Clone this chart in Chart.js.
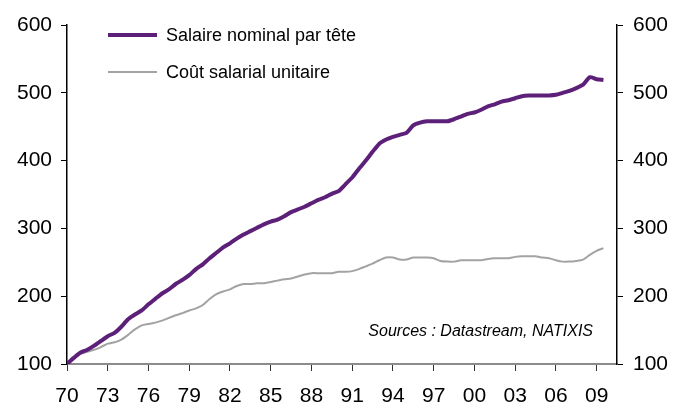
<!DOCTYPE html>
<html lang="fr">
<head>
<meta charset="utf-8">
<title>Salaire nominal et coût salarial unitaire</title>
<script src="https://cdn.jsdelivr.net/npm/chart.js@4/dist/chart.umd.min.js"></script>
<style>
    html, body { margin: 0; padding: 0; background: #fff; }
    canvas { display: block; }
</style>
</head>
<body>
<canvas id="graphique" width="683" height="403"></canvas>
<script>
// Données (base 100 en 1970, pas semestriel)
const annees = [
    1970, 1970.5, 1971, 1971.5, 1972, 1972.5, 1973, 1973.5, 1974, 1974.5,
    1975, 1975.5, 1976, 1976.5, 1977, 1977.5, 1978, 1978.5, 1979, 1979.5,
    1980, 1980.5, 1981, 1981.5, 1982, 1982.5, 1983, 1983.5, 1984, 1984.5,
    1985, 1985.5, 1986, 1986.5, 1987, 1987.5, 1988, 1988.5, 1989, 1989.5,
    1990, 1990.5, 1991, 1991.5, 1992, 1992.5, 1993, 1993.5, 1994, 1994.5,
    1995, 1995.5, 1996, 1996.5, 1997, 1997.5, 1998, 1998.5, 1999, 1999.5,
    2000, 2000.5, 2001, 2001.5, 2002, 2002.5, 2003, 2003.5, 2004, 2004.5,
    2005, 2005.5, 2006, 2006.5, 2007, 2007.5, 2008, 2008.5, 2009, 2009.5
];

const salaireNominal = [
    100, 109, 117, 121, 127, 134, 141, 146, 155, 166,
    173, 179, 188, 196, 204, 210, 218, 224, 231, 240,
    247, 256, 264, 272, 278, 285, 291, 296, 301, 306,
    310, 313, 318, 324, 328, 332, 337, 342, 346, 351,
    355, 365, 375, 388, 400, 413, 425, 431, 435, 438,
    441, 452, 456, 458, 458, 458, 458, 461, 465, 469,
    471, 475, 480, 483, 487, 489, 492, 495, 496, 496,
    496, 496, 497, 500, 503, 507, 512, 523, 520, 519
];

const coutSalarialUnitaire = [
    100, 108, 115, 118, 121, 125, 130, 132, 136, 143,
    151, 157, 159, 161, 164, 168, 172, 175, 179, 182,
    187, 196, 203, 207, 210, 215, 218, 218, 219, 219,
    221, 223, 225, 226, 229, 232, 234, 234, 234, 234,
    236, 236, 237, 240, 244, 248, 253, 257, 257, 254,
    254, 257, 257, 257, 256, 252, 251, 251, 253, 253,
    253, 253, 255, 256, 256, 256, 258, 259, 259, 259,
    257, 256, 253, 251, 251, 252, 254, 261, 267, 271
];

const ticksAnnees = [1970, 1973, 1976, 1979, 1982, 1985, 1988, 1991, 1994, 1997, 2000, 2003, 2006, 2009];
const ticksValeurs = [100, 200, 300, 400, 500, 600];

const POLICE = 'Arial, "Liberation Sans", sans-serif';
const VIOLET = '#5C2078';
const GRIS = '#A3A3A3';

/**
 * Légende et mention des sources dessinées dans la zone du graphique.
 */
const legendeEtSource = {
    id: 'legendeEtSource',
    afterDraw(chart) {
        const { ctx, chartArea } = chart;
        const items = [
            { texte: 'Salaire nominal par tête', couleur: VIOLET, epaisseur: 4 },
            { texte: 'Coût salarial unitaire', couleur: GRIS, epaisseur: 2 }
        ];
        ctx.save();
        ctx.font = `18px ${POLICE}`;
        ctx.textBaseline = 'middle';
        items.forEach((item, i) => {
            const y = chartArea.top + 10 + i * 37;
            ctx.strokeStyle = item.couleur;
            ctx.lineWidth = item.epaisseur;
            ctx.beginPath();
            ctx.moveTo(chartArea.left + 41, y);
            ctx.lineTo(chartArea.left + 90, y);
            ctx.stroke();
            ctx.fillStyle = '#000';
            ctx.fillText(item.texte, chartArea.left + 99, y + 1);
        });
        ctx.font = `italic 16px ${POLICE}`;
        ctx.textAlign = 'right';
        ctx.fillText('Sources : Datastream, NATIXIS', chartArea.right - 24, chartArea.bottom - 32);
        ctx.restore();
    }
};

function axeY(position, largeur, marge) {
    return {
        type: 'linear',
        position,
        min: 100,
        max: 600,
        afterBuildTicks: (scale) => {
            scale.ticks = ticksValeurs.map(v => ({ value: v }));
        },
        afterFit: (scale) => {
            scale.width = largeur;
        },
        ticks: {
            color: '#000',
            padding: marge,
            font: { family: POLICE, size: 21 }
        },
        grid: {
            display: true,
            drawOnChartArea: false,
            drawTicks: true,
            tickLength: 6,
            color: '#000'
        },
        border: {
            display: true,
            color: '#000',
            width: 1.5
        }
    };
}

const ctx = document.getElementById('graphique').getContext('2d');

new Chart(ctx, {
    type: 'line',
    data: {
        datasets: [
            {
                label: 'Salaire nominal par tête',
                data: annees.map((a, i) => ({ x: a, y: salaireNominal[i] })),
                borderColor: VIOLET,
                borderWidth: 4,
                pointRadius: 0,
                tension: 0.2,
                yAxisID: 'y'
            },
            {
                label: 'Coût salarial unitaire',
                data: annees.map((a, i) => ({ x: a, y: coutSalarialUnitaire[i] })),
                borderColor: GRIS,
                borderWidth: 2,
                pointRadius: 0,
                tension: 0.2,
                yAxisID: 'y'
            }
        ]
    },
    options: {
        responsive: false,
        animation: false,
        layout: {
            padding: { top: 25, right: 0, bottom: 0, left: 0 }
        },
        plugins: {
            legend: { display: false },
            tooltip: { enabled: false }
        },
        scales: {
            x: {
                type: 'linear',
                min: 1970,
                max: 2010.5,
                afterBuildTicks: (scale) => {
                    scale.ticks = ticksAnnees.map(v => ({ value: v }));
                },
                afterFit: (scale) => {
                    scale.height = 39;
                },
                ticks: {
                    color: '#000',
                    padding: 13,
                    maxRotation: 0,
                    autoSkip: false,
                    font: { family: POLICE, size: 21 },
                    callback: (v) => String(v % 100).padStart(2, '0')
                },
                grid: {
                    display: true,
                    drawOnChartArea: false,
                    drawTicks: true,
                    tickLength: 7,
                    color: '#333'
                },
                border: {
                    display: true,
                    color: '#8C8C8C',
                    width: 2
                }
            },
            y: axeY('left', 67, 9),
            y2: axeY('right', 66, 10)
        }
    },
    plugins: [legendeEtSource]
});
</script>
</body>
</html>
